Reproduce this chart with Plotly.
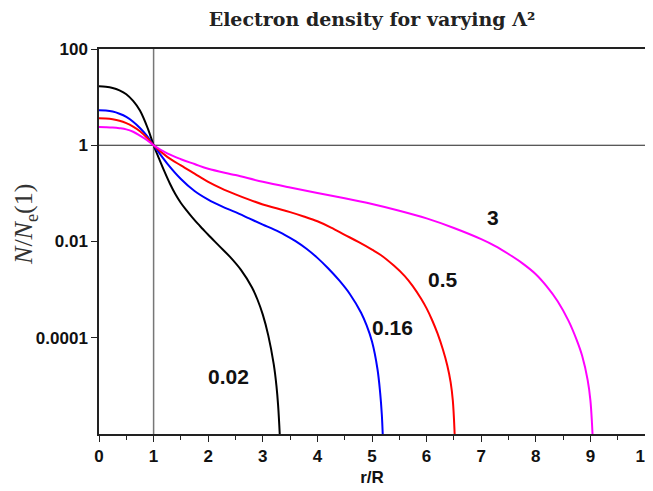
import plotly.graph_objects as go

# Curves (N / Ne(1) versus r/R)
x_002 = [0, 0.125, 0.25, 0.375, 0.5, 0.625, 0.75, 0.9, 1.0, 1.1, 1.2, 1.3, 1.4, 1.5, 1.6, 1.7, 1.8, 1.9, 2.0,
         2.2, 2.4, 2.6, 2.8, 2.9, 3.0, 3.1, 3.2, 3.25, 3.28, 3.31, 3.32]
n_002 = [16.75, 16.4, 15.49, 13.8, 11.48, 8.32, 5.25, 2.14, 1.0, 0.525, 0.282, 0.158, 0.0955, 0.0631, 0.0447,
         0.0324, 0.0240, 0.0182, 0.0138, 0.00813, 0.00479, 0.00257, 0.00112, 6.31e-4, 3.02e-4, 1.12e-4, 2.82e-5,
         1.0e-5, 3.98e-6, 1.0e-6, 5.0e-7]

x_016 = [0, 0.125, 0.25, 0.375, 0.5, 0.625, 0.75, 0.875, 1.0, 1.25, 1.5, 1.75, 2.0, 2.25, 2.5, 2.75, 3.0, 3.2,
         3.4, 3.6, 3.8, 4.0, 4.2, 4.4, 4.6, 4.8, 4.9, 5.0, 5.1, 5.15, 5.18, 5.2, 5.21]
n_016 = [5.32, 5.25, 5.01, 4.52, 3.89, 3.09, 2.29, 1.585, 1.0, 0.417, 0.1995, 0.112, 0.0741, 0.0537, 0.0407,
         0.0302, 0.0224, 0.0178, 0.0138, 0.0102, 0.00708, 0.00457, 0.00275, 0.00155, 7.94e-4, 3.31e-4, 1.82e-4,
         8.32e-5, 2.24e-5, 7.08e-6, 2.51e-6, 7.94e-7, 3.98e-7]

x_05 = [0, 0.125, 0.25, 0.375, 0.5, 0.625, 0.75, 0.875, 1.0, 1.25, 1.5, 1.75, 2.0, 2.25, 2.5, 2.75, 3.0, 3.25,
        3.5, 3.75, 4.0, 4.25, 4.5, 4.75, 5.0, 5.16, 5.4, 5.6, 5.75, 5.9, 6.0, 6.1, 6.2, 6.3, 6.38, 6.44, 6.48,
        6.51, 6.52]
n_05 = [3.63, 3.59, 3.47, 3.24, 2.88, 2.43, 1.95, 1.445, 1.0, 0.575, 0.380, 0.257, 0.174, 0.126, 0.0955, 0.0741,
        0.0589, 0.0490, 0.0407, 0.0331, 0.0263, 0.0195, 0.0138, 0.00977, 0.00676, 0.00525, 0.00316, 0.00191,
        0.00117, 6.46e-4, 4.07e-4, 2.34e-4, 1.23e-4, 5.62e-5, 2.63e-5, 1.20e-5, 5.01e-6, 1.26e-6, 5.0e-7]

x_3 = [0, 0.125, 0.25, 0.375, 0.5, 0.625, 0.75, 0.875, 1.0, 1.25, 1.5, 1.75, 2.0, 2.5, 3.0, 3.5, 4.0, 4.5, 5.0,
       5.5, 6.0, 6.5, 7.0, 7.25, 7.5, 7.75, 8.0, 8.2, 8.4, 8.6, 8.75, 8.85, 8.95, 9.0, 9.03, 9.05]
n_3 = [2.40, 2.38, 2.34, 2.26, 2.14, 1.905, 1.585, 1.288, 1.0, 0.676, 0.513, 0.407, 0.324, 0.240, 0.174, 0.132,
       0.102, 0.0794, 0.0603, 0.0437, 0.0302, 0.0191, 0.0112, 0.00813, 0.00550, 0.00355, 0.00209, 0.00117,
       5.75e-4, 2.24e-4, 8.91e-5, 4.17e-5, 1.32e-5, 5.01e-6, 1.58e-6, 5.0e-7]

labels = ["0.02", "0.16", "0.5", "3"]
colors = ["#000000", "#0000ff", "#ff0000", "#ff00ff"]
series_x = [x_002, x_016, x_05, x_3]
series_y = [n_002, n_016, n_05, n_3]

ytick_vals = [100, 1, 0.01, 0.0001]
ytick_text = ["100", "1", "0.01", "0.0001"]

fig = go.Figure()
for xs, ys, c, name in zip(series_x, series_y, colors, labels):
    fig.add_trace(go.Scatter(x=xs, y=ys, mode="lines", name=name,
                             line=dict(color=c, width=2, shape="spline", smoothing=1.0)))

# reference lines
fig.add_shape(type="line", xref="x", yref="y", x0=0, x1=10, y0=1, y1=1,
              line=dict(color="#222222", width=1.2), layer="below")
fig.add_shape(type="line", xref="x", yref="paper", x0=1, x1=1, y0=0, y1=1,
              line=dict(color="#777777", width=1.5), layer="below")

# curve labels
label_pos = [(2.38, -4.8), (5.38, -3.78), (6.30, -2.79), (7.22, -1.5)]
for (lx, ly), t in zip(label_pos, labels):
    fig.add_annotation(x=lx, y=ly, text=t, showarrow=False,
                       font=dict(family="Liberation Sans", size=21, color="#111111", weight="bold"))

# y-axis title (placed as a rotated annotation to match the reference position)
fig.add_annotation(xref="paper", yref="paper", x=-0.1355, y=0.543, xanchor="center", yanchor="middle",
                   text="<i>N</i>/<i>N</i><sub>e</sub>(1)", textangle=-90, showarrow=False,
                   font=dict(family="Liberation Serif", size=26, color="#333333"))

tickfont = dict(family="Liberation Sans", size=17, color="#111111", weight="bold")

# the page body adds an 8px offset, so margins are shifted by 8px
fig.update_layout(
    width=653, height=491,
    margin=dict(l=91, r=16, t=41, b=65),
    paper_bgcolor="white", plot_bgcolor="white",
    showlegend=False,
    title=dict(text="Electron density for varying Λ²",
               x=364 / 653, xanchor="center", y=1 - 11 / 491, yanchor="middle",
               font=dict(family="DejaVu Serif", size=19, color="#222222", weight="bold")),
    xaxis=dict(range=[0, 10], dtick=1, tick0=0, showgrid=False, zeroline=False, automargin=False,
               showline=True, linecolor="#222222", linewidth=1.5, mirror=True,
               ticks="outside", ticklen=6, tickwidth=1.2, tickcolor="#222222",
               minor=dict(dtick=0.5, ticks="outside", ticklen=4, tickwidth=1.2, tickcolor="#222222"),
               tickfont=tickfont,
               title=dict(text="r/R", font=dict(family="Liberation Sans", size=17, color="#111111", weight="bold"),
                          standoff=6)),
    yaxis=dict(type="log", range=[-6, 2], tickvals=ytick_vals, ticktext=ytick_text,
               showgrid=False, zeroline=False, automargin=False,
               showline=True, linecolor="#222222", linewidth=1.5, mirror=True,
               ticks="outside", ticklen=6, tickwidth=1.2, tickcolor="#222222",
               tickfont=tickfont),
)

fig.write_html("out.html")
